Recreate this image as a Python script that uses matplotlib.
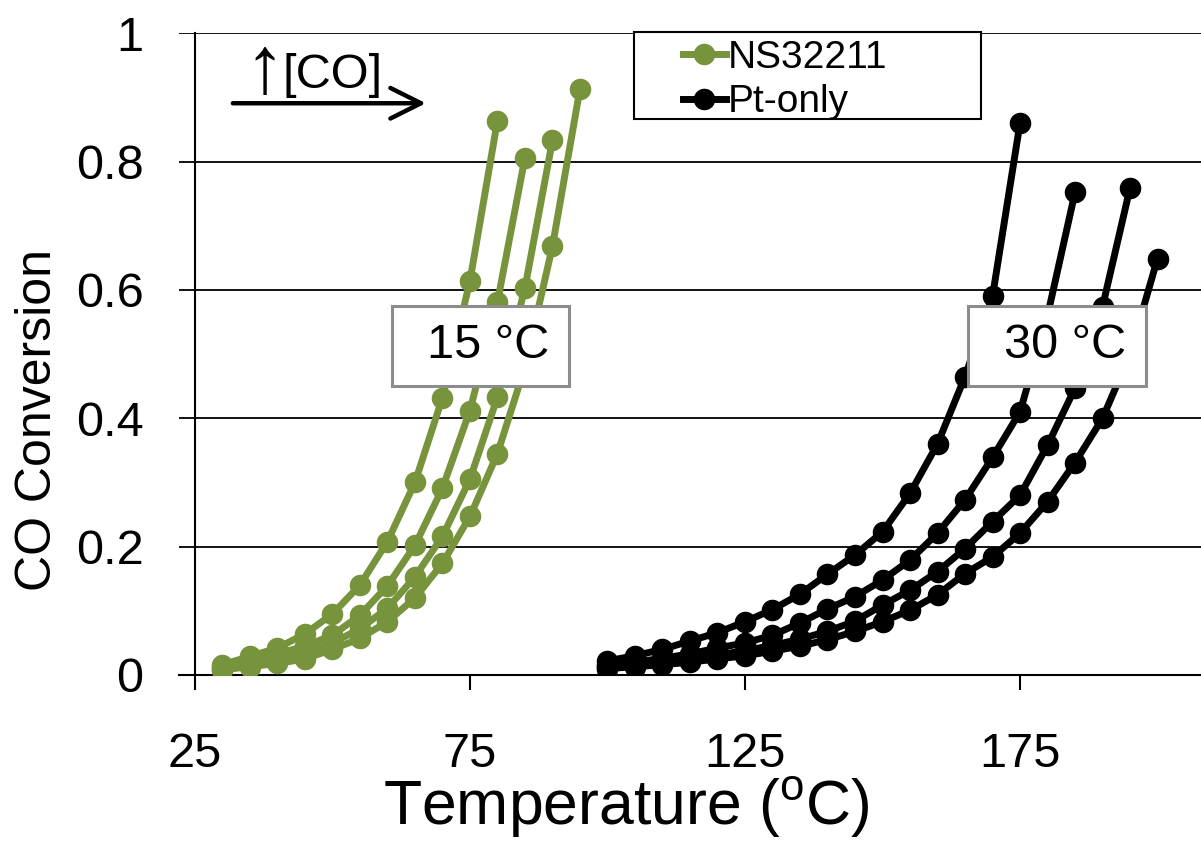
import matplotlib
matplotlib.use("Agg")
import matplotlib.pyplot as plt
from matplotlib.patches import Rectangle

plt.rcParams['font.family'] = ['Liberation Sans', 'DejaVu Sans']
plt.rcParams['mathtext.fontset'] = 'custom'
plt.rcParams['mathtext.rm'] = 'Liberation Sans'

# ---------------------------------------------------------------------------
# Light-off curves, 5 °C steps; each list is one feed [CO] (low -> high)
# ---------------------------------------------------------------------------
T_NS = [30, 35, 40, 45, 50, 55, 60, 65, 70, 75, 80, 85, 90, 95]
T_PT = [100, 105, 110, 115, 120, 125, 130, 135, 140, 145, 150,
        155, 160, 165, 170, 175, 180, 185, 190, 195, 200]

ns_conv = [
    [0.016, 0.029, 0.042, 0.064, 0.095, 0.140, 0.208, 0.300, 0.432, 0.614, 0.864],
    [0.012, 0.022, 0.033, 0.045, 0.062, 0.093, 0.139, 0.202, 0.291, 0.412, 0.581,
     0.806],
    [0.010, 0.018, 0.026, 0.035, 0.050, 0.072, 0.104, 0.153, 0.216, 0.305, 0.433,
     0.603, 0.833],
    [0.008, 0.013, 0.018, 0.025, 0.040, 0.057, 0.083, 0.120, 0.174, 0.247, 0.345,
     0.480, 0.668, 0.913],
]

pt_conv = [
    [0.022, 0.030, 0.040, 0.053, 0.066, 0.083, 0.102, 0.126, 0.157, 0.187, 0.223,
     0.283, 0.360, 0.465, 0.590, 0.860],
    [0.015, 0.020, 0.026, 0.033, 0.042, 0.050, 0.062, 0.081, 0.103, 0.122, 0.148,
     0.179, 0.221, 0.273, 0.339, 0.410, 0.560, 0.752],
    [0.012, 0.016, 0.020, 0.025, 0.031, 0.038, 0.046, 0.056, 0.068, 0.084, 0.109,
     0.132, 0.161, 0.197, 0.239, 0.280, 0.358, 0.447, 0.574, 0.759],
    [0.010, 0.013, 0.016, 0.020, 0.025, 0.030, 0.037, 0.045, 0.055, 0.068, 0.083,
     0.101, 0.125, 0.158, 0.184, 0.221, 0.270, 0.331, 0.400, 0.500, 0.649],
]

x_ticks = [25, 75, 125, 175]
y_ticks = [0, 0.2, 0.4, 0.6, 0.8, 1]
y_ticklabels = ['0', '0.2', '0.4', '0.6', '0.8', '1']

GREEN = '#77933C'
LW = 5
MS = 14.5

fig = plt.figure(figsize=(12.01, 8.43), dpi=100)
ax = fig.add_axes([0.149, 0.1993, 0.851, 0.7612])

for i, y in enumerate(ns_conv):
    ax.plot(T_NS[:len(y)], y, '-o', color=GREEN, lw=LW, ms=MS,
            label='NS32211' if i == 0 else None, zorder=3)
for i, y in enumerate(pt_conv):
    ax.plot(T_PT[:len(y)], y, '-o', color='black', lw=LW, ms=MS,
            label='Pt-only' if i == 0 else None, zorder=3)

ax.set_xlim(22.1, 207.9)
ax.set_ylim(0, 1)
ax.set_xticks(x_ticks)
ax.set_yticks(y_ticks)
ax.set_yticklabels(y_ticklabels)
ax.tick_params(axis='x', direction='out', length=11, width=1.5, pad=30,
               labelsize=35)
ax.tick_params(axis='y', length=0, pad=37, labelsize=35)

ax.grid(axis='y', color='black', lw=1.3)
ax.set_axisbelow(True)
for s in ['top', 'right']:
    ax.spines[s].set_visible(False)
ax.spines['left'].set_position(('data', 25))
ax.spines['left'].set_linewidth(1.5)
ax.spines['bottom'].set_linewidth(1.5)

ax.set_xlabel(r'Temperature ($\mathregular{^o}$C)', fontsize=45)
ax.xaxis.set_label_coords(0.438, -0.207)
ax.xaxis.label.set_va('center')
ax.set_ylabel('CO Conversion', fontsize=36)
ax.yaxis.set_label_coords(-0.138, 0.397)
ax.yaxis.label.set_va('center')

# temperature-shift callouts
for x0, x1, txt in [(60.8, 93.0, '15 °C'), (165.5, 197.9, '30 °C')]:
    ax.add_patch(Rectangle((x0, 0.450), x1 - x0, 0.125, facecolor='white',
                           edgecolor='#8C8C8C', lw=2.2, zorder=5))
    ax.text((x0 + x1) / 2 + 1.4, 0.513, txt, fontsize=35, ha='center',
            va='center', zorder=6)

# increasing [CO] arrow
ax.annotate('', xy=(67.0, 0.891), xytext=(31.9, 0.891),
            arrowprops=dict(arrowstyle='->,head_length=0.4,head_width=0.2',
                            color='black', lw=3.2, mutation_scale=55,
                            shrinkA=0, shrinkB=0))
ax.text(37.7, 0.939, '↑', fontsize=58, ha='center', va='center')
ax.text(50.1, 0.935, '[CO]', fontsize=35, ha='center', va='center')

# legend
leg = ax.legend(loc='upper left', bbox_to_anchor=(0.493, 0.99), frameon=False,
                fontsize=28, handlelength=1.1, handletextpad=0.05,
                borderpad=0, labelspacing=0.22, borderaxespad=0)
leg.set_zorder(7)
ax.add_patch(Rectangle((0.445, 0.866), 0.340, 0.136, transform=ax.transAxes,
                       facecolor='white', edgecolor='black', lw=1.5,
                       clip_on=False, zorder=6))

fig.savefig('out.png', dpi=100)
